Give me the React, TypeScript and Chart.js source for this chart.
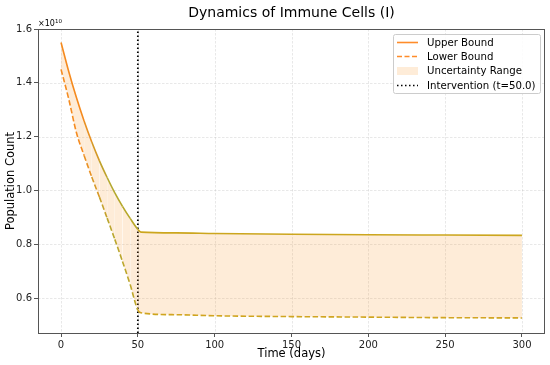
import React, { useEffect, useRef } from "react";
import { Chart, registerables } from "chart.js";

Chart.register(...registerables);

const upperT = [0, 5, 10, 15, 20, 25, 30, 35, 40, 45, 50, 52, 75, 100, 150, 200, 250, 300];
const upperV = [1.55, 1.442, 1.345, 1.258, 1.18, 1.11, 1.048, 0.991, 0.941, 0.896, 0.855, 0.845, 0.842, 0.840, 0.837, 0.835, 0.834, 0.833];
const lowerT = [0, 5, 10, 15, 20, 25, 30, 35, 40, 45, 50, 52, 75, 100, 150, 200, 250, 300];
const lowerV = [1.45, 1.34, 1.215, 1.13, 1.05, 0.975, 0.897, 0.818, 0.736, 0.65, 0.555, 0.545, 0.538, 0.534, 0.531, 0.529, 0.527, 0.526];
const interventionT = 50;
const xTicks = [0, 50, 100, 150, 200, 250, 300];
const yTicks = [0.6, 0.8, 1.0, 1.2, 1.4, 1.6];
const xMin = -15, xMax = 315, yMin = 0.47, yMax = 1.6;
const legendLabels = ["Upper Bound", "Lower Bound", "Uncertainty Range", "Intervention (t=50.0)"];

const FONT = "'DejaVu Sans', sans-serif";
const ORANGE: [number, number, number] = [245, 138, 30];
const OLIVE: [number, number, number] = [178, 168, 46];
const GOLD: [number, number, number] = [204, 166, 30];
const FILL = "rgba(250,160,60,0.2)";

function mix(a: number[], b: number[], f: number) {
  const c = a.map((v, i) => Math.round(v + (b[i] - v) * f));
  return `rgb(${c[0]},${c[1]},${c[2]})`;
}
function colorAt(x: number) {
  if (x < 12) return mix(ORANGE, ORANGE, 0);
  if (x < 28) return mix(ORANGE, OLIVE, (x - 12) / 16);
  if (x < 50) return mix(OLIVE, GOLD, ((x - 28) / 22) * 0.3);
  return mix(GOLD, GOLD, 0);
}

export default function App() {
  const ref = useRef<HTMLCanvasElement>(null);
  useEffect(() => {
    document.body.style.margin = "0";
    const canvas = ref.current!;
    const decor = {
      id: "decor",
      beforeDatasetsDraw(chart: any) {
        const { ctx, chartArea: a, scales } = chart;
        ctx.save();
        ctx.strokeStyle = "rgba(170,170,170,0.35)";
        ctx.lineWidth = 0.8;
        ctx.setLineDash([2.5, 1.5]);
        xTicks.forEach((t) => {
          const px = Math.round(scales.x.getPixelForValue(t)) + 0.5;
          ctx.beginPath(); ctx.moveTo(px, a.top); ctx.lineTo(px, a.bottom); ctx.stroke();
        });
        yTicks.forEach((t) => {
          const py = Math.round(scales.y.getPixelForValue(t)) + 0.5;
          ctx.beginPath(); ctx.moveTo(a.left, py); ctx.lineTo(a.right, py); ctx.stroke();
        });
        ctx.restore();
      },
      afterDraw(chart: any) {
        const { ctx, chartArea: a } = chart;
        ctx.save();
        // frame
        ctx.strokeStyle = "#555";
        ctx.lineWidth = 1;
        ctx.strokeRect(Math.round(a.left) + 0.5, Math.round(a.top) + 0.5, Math.round(a.right - a.left) - 1, Math.round(a.bottom - a.top));
        // title
        ctx.fillStyle = "#000";
        ctx.textAlign = "center";
        ctx.textBaseline = "middle";
        ctx.font = `14px ${FONT}`;
        ctx.fillText("Dynamics of Immune Cells (I)", (a.left + a.right) / 2, 13);
        ctx.font = `11.5px ${FONT}`;
        ctx.fillText("Time (days)", (a.left + a.right) / 2, 354);
        ctx.save();
        ctx.translate(11, (a.top + a.bottom) / 2);
        ctx.rotate(-Math.PI / 2);
        ctx.fillText("Population Count", 0, 0);
        ctx.restore();
        // exponent
        ctx.textAlign = "left";
        ctx.font = `8px ${FONT}`;
        ctx.fillText("\u00d710", a.left, 24);
        const w = ctx.measureText("\u00d710").width;
        ctx.font = `5.5px ${FONT}`;
        ctx.fillText("10", a.left + w, 21.5);
        // legend
        const lx = 393.5, ly = 34.5, lw = 147, lh = 59;
        ctx.fillStyle = "rgba(255,255,255,0.85)";
        ctx.strokeStyle = "#cccccc";
        ctx.lineWidth = 1;
        ctx.beginPath();
        (ctx as any).roundRect(lx, ly, lw, lh, 2);
        ctx.fill(); ctx.stroke();
        ctx.font = `10.2px ${FONT}`;
        ctx.fillStyle = "#000";
        ctx.textBaseline = "middle";
        const rows = [42.5, 56.5, 71, 85.5];
        legendLabels.forEach((lab, i) => {
          const y = rows[i];
          ctx.save();
          if (i === 0 || i === 1) {
            ctx.strokeStyle = "#ff8c2a";
            ctx.lineWidth = 1.6;
            ctx.setLineDash(i === 1 ? [5, 2.5] : []);
            ctx.beginPath(); ctx.moveTo(397, y); ctx.lineTo(418, y); ctx.stroke();
          } else if (i === 2) {
            ctx.fillStyle = FILL;
            ctx.fillRect(397, y - 4, 21, 8);
          } else {
            ctx.strokeStyle = "#000";
            ctx.lineWidth = 1.6;
            ctx.setLineDash([1.5, 2.5]);
            ctx.beginPath(); ctx.moveTo(397, y); ctx.lineTo(418, y); ctx.stroke();
          }
          ctx.restore();
          ctx.fillText(lab, 427, y + 0.5);
        });
        ctx.restore();
      },
    };

    const chart = new Chart(canvas, {
      type: "line",
      data: {
        datasets: [
          {
            label: legendLabels[0],
            data: upperT.map((t, i) => ({ x: t, y: upperV[i] })),
            borderWidth: 1.6,
            borderColor: "#f58a1e",
            segment: { borderColor: (c: any) => colorAt(c.p0.parsed.x) },
            pointRadius: 0,
            cubicInterpolationMode: "monotone",
            fill: { target: 1 },
            backgroundColor: FILL,
          },
          {
            label: legendLabels[1],
            data: lowerT.map((t, i) => ({ x: t, y: lowerV[i] })),
            borderWidth: 1.6,
            borderColor: "#f58a1e",
            borderDash: [5.5, 2.5],
            segment: { borderColor: (c: any) => colorAt(c.p0.parsed.x) },
            pointRadius: 0,
            cubicInterpolationMode: "monotone",
            fill: false,
          },
          {
            label: legendLabels[3],
            data: [{ x: interventionT, y: yMin }, { x: interventionT, y: yMax }],
            borderWidth: 1.8,
            borderColor: "#000",
            borderDash: [1.5, 2.5],
            pointRadius: 0,
            fill: false,
          },
        ],
      },
      options: {
        responsive: false,
        animation: false,
        layout: { padding: { top: 29, right: 5, left: 0, bottom: 0 } },
        plugins: { legend: { display: false }, title: { display: false }, tooltip: { enabled: false } },
        scales: {
          x: {
            type: "linear",
            min: xMin,
            max: xMax,
            afterBuildTicks: (s: any) => { s.ticks = xTicks.map((v) => ({ value: v })); },
            afterFit: (s: any) => { s.height = 32; },
            grid: { drawOnChartArea: false, drawTicks: true, tickLength: 4, tickColor: "#555" },
            border: { display: false },
            ticks: { font: { family: FONT, size: 10 }, color: "#222", padding: 2, maxRotation: 0, callback: (v: any) => String(v) },
          },
          y: {
            type: "linear",
            min: yMin,
            max: yMax,
            afterBuildTicks: (s: any) => { s.ticks = yTicks.map((v) => ({ value: v })); },
            afterFit: (s: any) => { s.width = 38; },
            grid: { drawOnChartArea: false, drawTicks: true, tickLength: 4, tickColor: "#555" },
            border: { display: false },
            ticks: { font: { family: FONT, size: 10 }, color: "#222", padding: 2, callback: (v: any) => Number(v).toFixed(1) },
          },
        },
      },
      plugins: [decor],
    } as any);
    return () => chart.destroy();
  }, []);
  return (
    <div style={{ width: 550, height: 365 }}>
      <canvas ref={ref} width={550} height={365} />
    </div>
  );
}
